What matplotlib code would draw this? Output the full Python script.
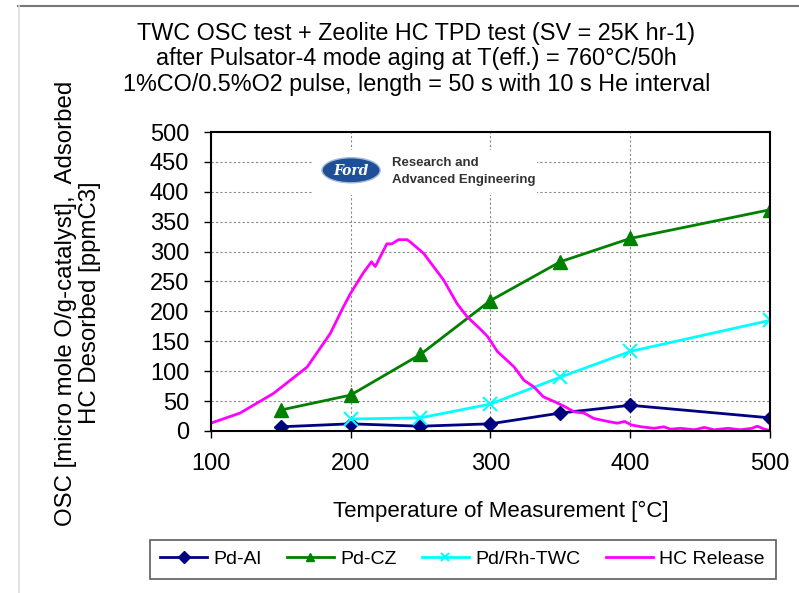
import numpy as np
import matplotlib.pyplot as plt
from matplotlib.patches import Ellipse, Rectangle
from matplotlib.lines import Line2D

plt.rcParams['font.family'] = ['Liberation Sans', 'DejaVu Sans']

# OSC measurement temperatures and values
temp_al = [150, 200, 250, 300, 350, 400, 500]
osc_pd_al = [7, 12, 8, 12, 30, 43, 22]

temp_cz = [150, 200, 250, 300, 350, 400, 500]
osc_pd_cz = [35, 60, 128, 218, 283, 322, 370]

temp_twc = [200, 250, 300, 350, 400, 500]
osc_twc = [20, 22, 45, 90, 133, 185]

# HC release trace
temp_hc = [100, 121, 145, 169, 185.5, 195, 200, 209, 215, 217.7, 222.5, 226,
           229.6, 234.4, 240.4, 242.8, 252.3, 266.7, 276.2, 283.4, 293, 298,
           305, 312, 317, 324, 331, 338, 346, 353, 360, 367, 374, 384, 391,
           396, 401, 408, 417, 424, 429, 436, 446, 453, 460, 470, 479, 487,
           491, 496, 500]
hc_release = [13, 30, 63, 107, 163, 208, 230, 264, 283, 275, 297, 313,
              313, 320, 320, 316, 297, 252, 213, 191, 170, 158, 133, 118,
              107, 85, 74, 57, 49, 41, 32, 30, 21, 16, 13, 16, 10, 7, 4.5,
              7, 3, 4.5, 2, 6, 2, 4.5, 2, 4.5, 8, 3, 1]

title_lines = ["TWC OSC test + Zeolite HC TPD test (SV = 25K hr-1)",
               "after Pulsator-4 mode aging at T(eff.) = 760°C/50h",
               "1%CO/0.5%O2 pulse, length = 50 s with 10 s He interval"]

fig = plt.figure(figsize=(7.99, 5.93), dpi=100)
ax = fig.add_axes([0.2637, 0.2732, 0.7, 0.5042])

ax.plot(temp_al, osc_pd_al, color='#000080', marker='D', markersize=7,
        lw=2, label='Pd-Al')
ax.plot(temp_cz, osc_pd_cz, color='#008000', marker='^', markersize=10,
        lw=2, label='Pd-CZ')
ax.plot(temp_twc, osc_twc, color='#00FFFF', marker='x', markersize=10,
        mew=1.5, lw=2, label='Pd/Rh-TWC')
ax.plot(temp_hc, hc_release, color='#FF00FF', lw=2, label='HC Release')

ax.set_xlim(100, 500)
ax.set_ylim(0, 500)
ax.set_xticks(range(100, 501, 100))
ax.set_yticks(range(0, 501, 50))
ax.grid(True, color='#888888', linestyle=(0, (2, 2)), linewidth=0.8)
ax.set_axisbelow(True)
for sp in ax.spines.values():
    sp.set_linewidth(1.5)
ax.tick_params(labelsize=17, direction='out', length=5, width=1, pad=10.5)

fig.text(0.627, 0.137, "Temperature of Measurement [°C]", fontsize=16,
         ha='center', va='center')
fig.text(0.0976, 0.489, "OSC [micro mole O/g-catalyst],  Adsorbed\nHC Desorbed [ppmC3]",
         rotation=90, ha='center', va='center', fontsize=17.3,
         multialignment='center', linespacing=1.08)

fig.text(0.521, 0.901, "\n".join(title_lines), ha='center', va='center',
         fontsize=16.8, linespacing=1.15)

# logo block over the grid
ax.add_patch(Rectangle((0.183, 0.789), 0.40, 0.15, transform=ax.transAxes,
                       facecolor='white', edgecolor='none', zorder=3))
ax.add_patch(Ellipse((0.251, 0.872), 0.104, 0.084, transform=ax.transAxes,
                     facecolor='#1f4f96', edgecolor='#a8b8d8', lw=1, zorder=4))
ax.text(0.251, 0.870, "Ford", transform=ax.transAxes, color='white',
        fontsize=10, style='italic', fontweight='bold', family='DejaVu Serif',
        ha='center', va='center', zorder=5)
ax.text(0.325, 0.895, "Research and", transform=ax.transAxes, color='#333333',
        fontsize=9.5, fontweight='bold', ha='left', va='center', zorder=5)
ax.text(0.325, 0.840, "Advanced Engineering", transform=ax.transAxes,
        color='#333333', fontsize=9.5, fontweight='bold', ha='left',
        va='center', zorder=5)

leg = fig.legend(loc='center', bbox_to_anchor=(0.579, 0.0565), ncol=4,
                 fontsize=14, frameon=True, fancybox=False, handlelength=2.4,
                 handletextpad=0.35, columnspacing=1.3, borderpad=0.55)
leg.get_frame().set_edgecolor('#333333')
leg.get_frame().set_linewidth(1.2)
for h in leg.legend_handles:
    h.set_markersize(6)

# frame lines along top and left edge of the slide
fig.add_artist(Line2D([0.023, 1.0], [0.99, 0.99], transform=fig.transFigure,
                      color='#777777', lw=1.5))
fig.add_artist(Line2D([0.024, 0.024], [0.0, 0.99], transform=fig.transFigure,
                      color='#dddddd', lw=1.2))

fig.savefig('out.png', dpi=100)
